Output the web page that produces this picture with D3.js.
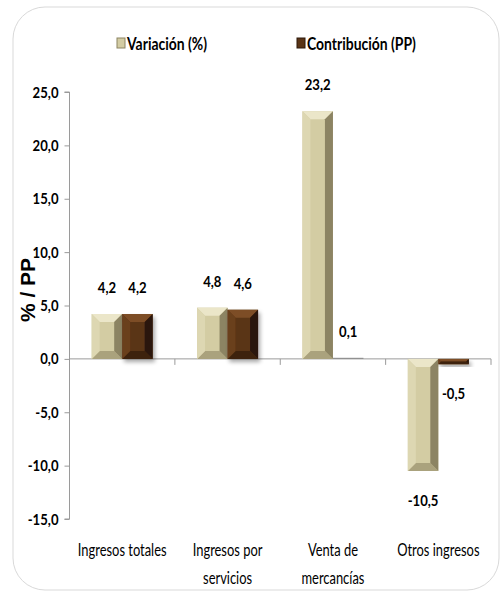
<!DOCTYPE html>
<html><head><meta charset="utf-8">
<script src="https://cdn.jsdelivr.net/npm/d3@7"></script>
<style>
body{margin:0;background:#fff;}
svg{display:block;}
text{font-family:Lato,"Open Sans",sans-serif;fill:#000;}
</style></head>
<body>
<script>
const categories = [["Ingresos totales"], ["Ingresos por","servicios"], ["Venta de","mercancías"], ["Otros ingresos"]];
const seriesNames = ["Variación (%)", "Contribución (PP)"];
const variacion = [4.2, 4.8, 23.2, -10.5];
const contribucion = [4.2, 4.6, 0.1, -0.5];
const yTicks = [25, 20, 15, 10, 5, 0, -5, -10, -15];

const W = 501, H = 597;
const svg = d3.select("body").append("svg").attr("width", W).attr("height", H);
const defs = svg.append("defs");
const f = defs.append("filter").attr("id","sh").attr("x","-20%").attr("y","-20%").attr("width","160%").attr("height","160%");
f.append("feGaussianBlur").attr("in","SourceAlpha").attr("stdDeviation",2).attr("result","b");
f.append("feOffset").attr("in","b").attr("dx",2).attr("dy",3).attr("result","o");
f.append("feComponentTransfer").attr("in","o").attr("result","o2").append("feFuncA").attr("type","linear").attr("slope",0.35);
const fm = f.append("feMerge"); fm.append("feMergeNode").attr("in","o2"); fm.append("feMergeNode").attr("in","SourceGraphic");

svg.append("rect").attr("x",13).attr("y",7).attr("width",486).attr("height",583).attr("rx",32)
  .attr("fill","none").attr("stroke","#d9d9d9").attr("stroke-width",1);

const x0 = 69.5, x1 = 491;
const y = d3.scaleLinear().domain([-15, 25]).range([519, 92]);
const x = d3.scaleBand().domain(d3.range(categories.length)).range([x0, x1]).paddingInner(0).paddingOuter(0);
const bw = 30.5;
const xs = d3.scaleBand().domain([0,1]).range([0, bw*2]);

const palettes = [
  {base:"#d3cca3", top:"#ebe6c9", left:"#ddd7b2", right:"#8c8463", bottom:"#aaa27d"},
  {base:"#5a3416", top:"#7d4d27", left:"#6a3f1c", right:"#2c180a", bottom:"#3e230d"}
];

function bevelBar(g, bx, bxw, v, pal, shadow){
  const yt = y(Math.max(0,v)), yb = y(Math.min(0,v));
  const h = yb - yt;
  const b = Math.min(8, h/2, bxw/2);
  const L = bx, R = bx + bxw, T = yt, B = yb;
  const grp = g.append("g");
  if (shadow) grp.attr("filter","url(#sh)");
  grp.append("rect").attr("x",L).attr("y",T).attr("width",bxw).attr("height",Math.max(h,0.5)).attr("fill",pal.base);
  if (h > 2){
    grp.append("polygon").attr("points",[[L,T],[R,T],[R-b,T+b],[L+b,T+b]].join(" ")).attr("fill",pal.top);
    grp.append("polygon").attr("points",[[L,B],[R,B],[R-b,B-b],[L+b,B-b]].join(" ")).attr("fill",pal.bottom);
    grp.append("polygon").attr("points",[[L,T],[L+b,T+b],[L+b,B-b],[L,B]].join(" ")).attr("fill",pal.left);
    grp.append("polygon").attr("points",[[R,T],[R-b,T+b],[R-b,B-b],[R,B]].join(" ")).attr("fill",pal.right);
  } else {
    grp.select("rect").attr("fill","#8a8a8a");
  }
}

const fmt = v => d3.format(".1f")(v).replace(".",",").replace("\u2212","-");

// squeezed text helper
function sText(parent, tx, ty, str, opts){
  const g = parent.append("g").attr("transform",`translate(${tx},${ty}) scale(${opts.sx||0.8},1)`);
  return g.append("text").attr("text-anchor",opts.anchor||"middle")
    .style("font-size",(opts.size||16)+"px").style("font-weight",opts.bold?"bold":"normal").text(str);
}

// axes
const gy = svg.append("g").attr("transform",`translate(${x0},0)`)
  .call(d3.axisLeft(y).tickValues(yTicks).tickSize(5).tickFormat(""));
gy.select(".domain").attr("stroke","#9a9a9a").attr("d",`M-5,${y(25)}H0V${y(-15)}H-5`);
gy.selectAll(".tick line").attr("stroke","#9a9a9a");
yTicks.forEach(t=>{
  sText(svg, x0-11, y(t)+5.5, fmt(t), {anchor:"end", size:16, bold:true, sx:0.82});
});

const zeroY = y(0);
svg.append("line").attr("x1",x0).attr("x2",x1).attr("y1",zeroY).attr("y2",zeroY).attr("stroke","#9a9a9a");
d3.range(categories.length+1).forEach(i=>{
  const xx = i < categories.length ? x(i) : x1;
  svg.append("line").attr("x1",xx).attr("x2",xx).attr("y1",zeroY).attr("y2",zeroY+6).attr("stroke","#9a9a9a");
});

const gb = svg.append("g");
const data = [variacion, contribucion];
categories.forEach((c,i)=>{
  const gx = x(i) + (x.bandwidth() - bw*2)/2;
  data.forEach((arr,s)=>{
    bevelBar(gb, gx + xs(s), bw, arr[i], palettes[s], s===1);
  });
});

// labels
categories.forEach((c,i)=>{
  const gx = x(i) + (x.bandwidth() - bw*2)/2;
  data.forEach((arr,s)=>{
    const v = arr[i];
    const cx = gx + xs(s) + bw/2;
    const ly = v >= 0 ? y(v) - 21 : y(v) + 35;
    sText(svg, cx, ly, fmt(v), {size:16, bold:true, sx:0.82});
  });
});

// category labels
categories.forEach((lines,i)=>{
  const cx = x(i) + x.bandwidth()/2;
  lines.forEach((t,k)=>{
    sText(svg, cx, 556 + k*28, t, {size:17, sx:0.76});
  });
});

// y title
svg.append("text").attr("transform","translate(35,290) rotate(-90)").attr("text-anchor","middle")
  .style("font-family","'Liberation Sans',Arial,sans-serif").style("font-size","21px").style("font-weight","bold").text("% / PP");

// legend
const legX = [117, 297];
seriesNames.forEach((n,s)=>{
  const lg = svg.append("g").attr("transform",`translate(${legX[s]},38)`);
  lg.append("rect").attr("x",0).attr("y",0).attr("width",8).attr("height",10).attr("fill",palettes[s].base).attr("stroke",palettes[s].right).attr("stroke-width",1);
  sText(lg, 10, 11.5, n, {anchor:"start", size:17, bold:true, sx:0.82});
});
</script>
</body></html>
